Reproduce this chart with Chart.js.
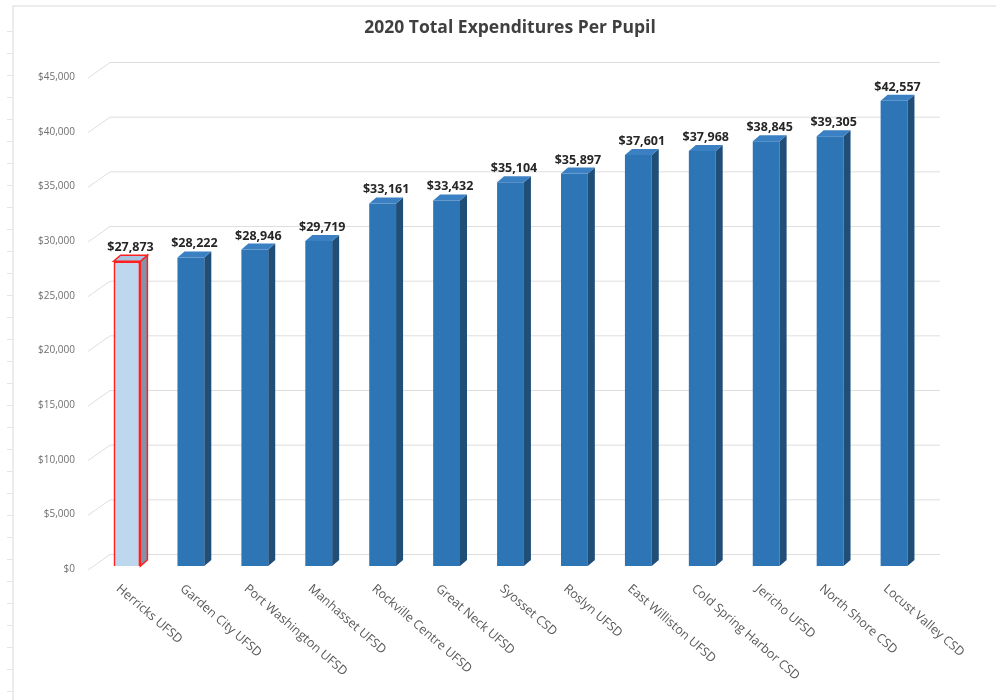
<!DOCTYPE html>
<html>
<head>
<meta charset="utf-8">
<script src="https://cdn.jsdelivr.net/npm/chart.js@4.4.0/dist/chart.umd.min.js"></script>
<style>
  html, body { margin: 0; padding: 0; background: #fff; }
  #wrap { position: relative; width: 996px; height: 700px; }
  #frame {
    position: absolute; left: 12px; top: 5px; right: 0; bottom: 0;
    border-left: 2px solid #ececec; border-top: 2px solid #ececec;
  }
  #ticks {
    position: absolute; left: 7px; top: 10px; width: 6px; bottom: 0;
    background: repeating-linear-gradient(to bottom, transparent 0 21px, #e4e4e4 21px 22px);
  }
  canvas { position: absolute; left: 0; top: 0; }
</style>
</head>
<body>
<div id="wrap">
  <div id="frame"></div>
  <div id="ticks"></div>
  <canvas id="myChart" width="996" height="700"></canvas>
</div>
<script>
// Data
const chartTitle = '2020 Total Expenditures Per Pupil';
const districts = [
  'Herricks UFSD', 'Garden City UFSD', 'Port Washington UFSD', 'Manhasset UFSD',
  'Rockville Centre UFSD', 'Great Neck UFSD', 'Syosset CSD', 'Roslyn UFSD',
  'East Williston UFSD', 'Cold Spring Harbor CSD', 'Jericho UFSD', 'North Shore CSD',
  'Locust Valley CSD'
];
const perPupil = [27873, 28222, 28946, 29719, 33161, 33432, 35104, 35897, 37601, 37968, 38845, 39305, 42557];
const yTicks = [0, 5000, 10000, 15000, 20000, 25000, 30000, 35000, 40000, 45000];

const DEPTH_X = 7, DEPTH_Y = -6;   // bar depth
const WALL_X = 22, WALL_Y = -12;   // back wall offset for gridlines

const money = v => '$' + v.toLocaleString('en-US');

//back wall gridlines with the little slant on the left
const wallGrid = {
  id: 'wallGrid',
  beforeDatasetsDraw(chart) {
    const {ctx, chartArea, scales: {y}} = chart;
    ctx.save();
    ctx.strokeStyle = '#dedede';
    ctx.lineWidth = 1;
    yTicks.forEach(t => {
      const py = y.getPixelForValue(t);
      ctx.beginPath();
      ctx.moveTo(chartArea.left - 7, py + 4);
      ctx.lineTo(chartArea.left - 7 + WALL_X, py + WALL_Y + 0.5);
      ctx.lineTo(chartArea.right + 14, py + WALL_Y + 0.5);
      ctx.stroke();
    });
    ctx.restore();
  }
};

// side + top faces, value labels, rotated category labels, title
const bars3d = {
  id: 'bars3d',
  afterDatasetsDraw(chart) {
    const {ctx} = chart;
    const meta = chart.getDatasetMeta(0);
    ctx.save();
    meta.data.forEach((bar, i) => {
      const half = bar.width / 2;
      const l = bar.x - half, r = bar.x + half, t = bar.y, b = bar.base;
      const first = i === 0;
      // side
      ctx.fillStyle = first ? '#8294aa' : '#1f4e79';
      ctx.beginPath();
      ctx.moveTo(r, t); ctx.lineTo(r + DEPTH_X, t + DEPTH_Y);
      ctx.lineTo(r + DEPTH_X, b + DEPTH_Y); ctx.lineTo(r, b);
      ctx.closePath(); ctx.fill();
      if (first) { ctx.strokeStyle = '#ff2020'; ctx.lineWidth = 1.5; ctx.stroke(); }
      // top
      ctx.fillStyle = first ? '#a9c4e0' : '#3a80c2';
      ctx.beginPath();
      ctx.moveTo(l, t); ctx.lineTo(l + DEPTH_X, t + DEPTH_Y);
      ctx.lineTo(r + DEPTH_X, t + DEPTH_Y); ctx.lineTo(r, t);
      ctx.closePath(); ctx.fill();
      if (first) { ctx.strokeStyle = '#ff2020'; ctx.lineWidth = 1.5; ctx.stroke(); }

      // value label
      ctx.fillStyle = '#262626';
      ctx.font = 'bold 12.5px "Open Sans"';
      ctx.textAlign = 'center';
      ctx.textBaseline = 'alphabetic';
      ctx.fillText(money(perPupil[i]), bar.x + DEPTH_X / 2, t + DEPTH_Y - 4);

      // category label
      ctx.save();
      ctx.translate(bar.x - 9, b + 21);
      ctx.rotate(41 * Math.PI / 180);
      ctx.fillStyle = '#595959';
      ctx.font = '12.5px "Open Sans"';
      ctx.textAlign = 'left';
      ctx.textBaseline = 'middle';
      ctx.fillText(districts[i], 0, 0);
      ctx.restore();
    });
    //title (centred on the whole picture, not the plot)
    ctx.fillStyle = '#404040';
    ctx.font = 'bold 17.5px "Open Sans"';
    ctx.textAlign = 'center';
    ctx.textBaseline = 'middle';
    ctx.fillText(chartTitle, 510, 28);
    ctx.restore();
  }
};

const ctx = document.getElementById('myChart');
new Chart(ctx, {
  type: 'bar',
  data: {
    labels: districts,
    datasets: [{
      data: perPupil,
      backgroundColor: perPupil.map((v, i) => i === 0 ? '#bdd7ee' : '#2e75b6'),
      borderColor: perPupil.map((v, i) => i === 0 ? '#ff2020' : '#2e75b6'),
      borderWidth: perPupil.map((v, i) => i === 0 ? 2 : 0),
      barPercentage: 0.42,
      categoryPercentage: 1.0
    }]
  },
  options: {
    responsive: false,
    animation: false,
    layout: { padding: { top: 74, right: 70, bottom: 134, left: 0 } },
    plugins: {
      legend: { display: false },
      tooltip: { enabled: false },
      title: { display: false }
    },
    scales: {
      x: {
        display: false
      },
      y: {
        min: 0,
        max: 45000,
        afterBuildTicks: s => { s.ticks = yTicks.map(v => ({value: v})); },
        afterFit: s => { s.width = 95; },
        grid: { display: false, drawTicks: false },
        border: { display: false },
        ticks: {
          padding: 20,
          labelOffset: 3,
          color: '#6f6f6f',
          font: { family: 'Open Sans', size: 10 },
          callback: v => money(v)
        }
      }
    }
  },
  plugins: [wallGrid, bars3d]
});
</script>
</body>
</html>
